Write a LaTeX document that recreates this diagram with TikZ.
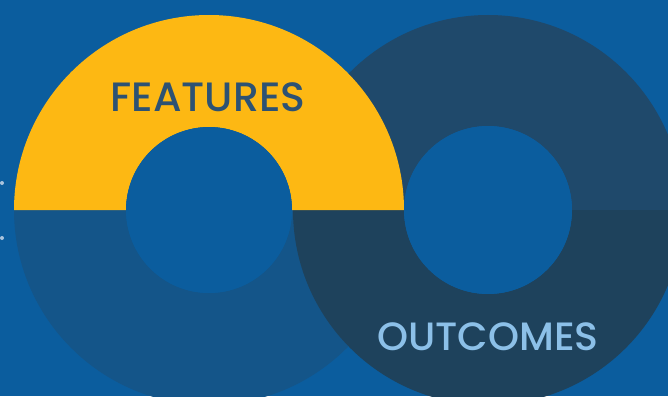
\documentclass[tikz,border=0pt]{standalone}
\usepackage{fontspec}
\setmainfont{Poppins}
\newfontfamily\medfont{Poppins Medium}
\definecolor{bg}{RGB}{11,93,158}
\definecolor{ylw}{RGB}{253,184,19}
\definecolor{lbot}{RGB}{20,85,137}
\definecolor{rtop}{RGB}{31,73,107}
\definecolor{rbot}{RGB}{30,66,92}
\definecolor{feat}{RGB}{45,82,115}
\definecolor{outc}{RGB}{140,192,232}
\definecolor{dotc}{RGB}{170,195,220}
\tikzset{lbl/.style={font=\medfont\fontsize{41}{41}\selectfont, inner sep=0pt, anchor=center}}
\begin{document}
\begin{tikzpicture}[x=1pt,y=-1pt]
\fill[bg] (0,0) rectangle (668,396);
\useasboundingbox (0,0) rectangle (668,396);
% left ring bottom half
\fill[lbot] (14,210) arc[start angle=180,end angle=0,radius=195] -- (292,210) arc[start angle=0,end angle=180,radius=83] -- cycle;
% right ring
\fill[rtop] (293,210) arc[start angle=180,end angle=360,radius=195] -- (572,210) arc[start angle=0,end angle=-180,radius=84] -- cycle;
\fill[rbot] (293,210) arc[start angle=180,end angle=0,radius=195] -- (572,210) arc[start angle=0,end angle=180,radius=84] -- cycle;
% left ring top yellow
\fill[ylw] (14,210) arc[start angle=180,end angle=360,radius=195] -- (292,210) arc[start angle=0,end angle=-180,radius=83] -- cycle;
\fill[bg] (209,210) circle[radius=83];
\fill[bg] (488,210) circle[radius=84];
\node[lbl, text=feat] (features) at (208,97) {FEATURES};
\node[lbl, text=outc, font=\medfont\fontsize{39.5}{39.5}\selectfont] (outcomes) at (488,337) {OUTCOMES};
\fill[dotc] (2,183) circle[radius=2];
\fill[dotc] (2,238) circle[radius=2];
\end{tikzpicture}
\end{document}
